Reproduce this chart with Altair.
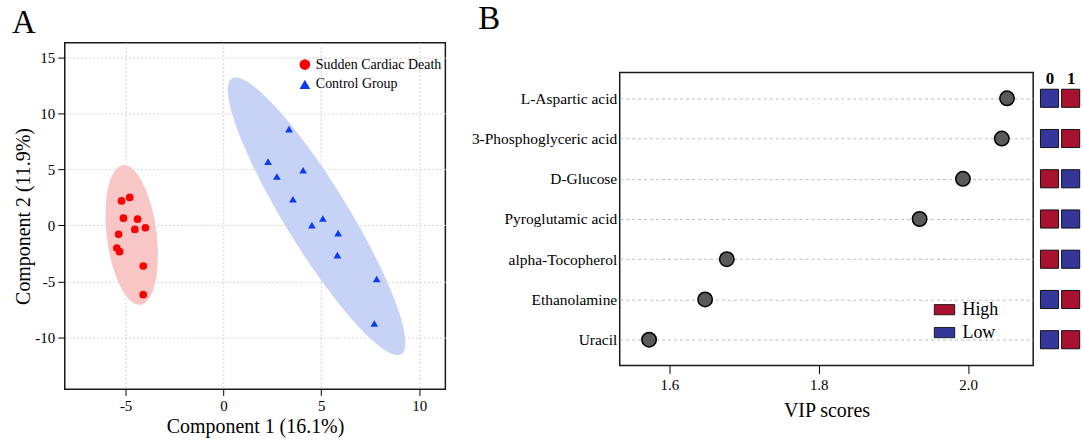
import numpy as np
import pandas as pd
import altair as alt

FONT = "Liberation Serif"

# ---------------- Panel A data (PLS-DA scores) ----------------
groups = ["Sudden Cardiac Death", "Control Group"]
scd_x = [-5.21, -4.79, -5.11, -4.39, -4.53, -3.99, -5.36, -5.45, -5.31, -4.10, -4.10]
scd_y = [2.19, 2.50, 0.65, 0.56, -0.36, -0.21, -0.80, -2.02, -2.35, -3.63, -6.19]
ctl_x = [3.35, 2.28, 2.73, 4.07, 3.55, 5.08, 4.52, 5.86, 5.82, 7.83, 7.71]
ctl_y = [8.61, 5.70, 4.37, 4.93, 2.34, 0.62, 0.03, -0.69, -2.65, -4.79, -8.77]

# confidence ellipses: centre, offset of the top point, half width at the top
ell_cx = [-4.69, 4.76]
ell_cy = [-0.86, 0.81]
ell_top_dx = [-0.39, -4.13]
ell_top_dy = [6.24, 12.41]
ell_halfw = [1.28, 1.88]
ell_fill = ["#f9c6c6", "#c6d3f6"]

point_colors = ["#ff0000", "#0b3cf2"]
point_shapes = ["circle", "triangle-up"]

# ---------------- Panel B data (VIP scores) ----------------
metabolites = ["L-Aspartic acid", "3-Phosphoglyceric acid", "D-Glucose",
               "Pyroglutamic acid", "alpha-Tocopherol", "Ethanolamine", "Uracil"]
vip = [2.052, 2.045, 1.993, 1.935, 1.677, 1.648, 1.573]
heat_cols = ["0", "1"]
heat_0 = ["Low", "Low", "High", "High", "High", "Low", "Low"]
heat_1 = ["High", "High", "Low", "Low", "Low", "High", "High"]
levels = ["High", "Low"]
level_colors = ["#a8112f", "#34369a"]

# ---------------- build tables ----------------
pts = pd.DataFrame({
    "x": scd_x + ctl_x,
    "y": scd_y + ctl_y,
    "group": [groups[0]] * len(scd_x) + [groups[1]] * len(ctl_x),
})


def ellipse_table(i, n=181):
    ax, ay, b = ell_top_dx[i], ell_top_dy[i], ell_halfw[i]
    R = np.hypot(ax, b)
    phi = np.arctan2(b, ax)
    u = np.cos(np.linspace(0, np.pi, n))
    s = np.sqrt(np.clip(1 - u ** 2, 0, None))
    x = ell_cx[i] + R * u
    mid = ell_cy[i] + ay * u * np.cos(phi)
    half = ay * np.sin(phi) * s
    return pd.DataFrame({"x": x, "y": mid + half, "y2": mid - half})


xA_scale = alt.Scale(domain=[-8.11, 11.34], nice=False, zero=False)
yA_scale = alt.Scale(domain=[-14.66, 16.34], nice=False, zero=False)

xA_axis = alt.Axis(values=[-5, 0, 5, 10], labelExpr="datum.value", title="Component 1 (16.1%)",
                   grid=True, gridDash=[2, 2], gridColor="#d4d4d4", domain=False,
                   tickSize=6, tickColor="black", labelFontSize=15, titleFontSize=20,
                   labelPadding=3, titlePadding=3)
yA_axis = alt.Axis(values=[-10, -5, 0, 5, 10, 15], labelExpr="datum.value", title="Component 2 (11.9%)",
                   grid=True, gridDash=[2, 2], gridColor="#d4d4d4", domain=False,
                   tickSize=7, tickColor="black", labelFontSize=15, titleFontSize=20,
                   labelPadding=3, titlePadding=1)

ell_layers = []
for i in range(2):
    ell_layers.append(
        alt.Chart(ellipse_table(i)).mark_area(color=ell_fill[i], opacity=1, orient="vertical").encode(
            x=alt.X("x:Q", scale=xA_scale, axis=xA_axis),
            y=alt.Y("y:Q", scale=yA_scale, axis=yA_axis),
            y2="y2:Q",
        )
    )

legA = alt.Legend(title=None, orient="none", legendX=234, legendY=15, labelFont=FONT,
                  labelFontSize=14, labelColor="black", symbolSize=115, symbolStrokeWidth=0,
                  rowPadding=6, labelOffset=4, padding=0)

points = alt.Chart(pts).mark_point(filled=True, size=60, opacity=1).encode(
    x=alt.X("x:Q", scale=xA_scale, axis=xA_axis),
    y=alt.Y("y:Q", scale=yA_scale, axis=yA_axis),
    color=alt.Color("group:N", scale=alt.Scale(domain=groups, range=point_colors), legend=legA),
    shape=alt.Shape("group:N", scale=alt.Scale(domain=groups, range=point_shapes), legend=legA),
)

panelA = alt.layer(*ell_layers, points).properties(
    width=382, height=348,
    view=alt.ViewBackground(stroke="#1a1a1a", strokeWidth=1.5),
    title=alt.TitleParams("A", anchor="start", frame="group", dx=-53, fontSize=33, font=FONT,
                          fontWeight="normal", baseline="top", offset=3, color="black"),
)

# ---------------- Panel B ----------------
dots = pd.DataFrame({"metabolite": metabolites, "vip": vip})
heat = pd.DataFrame({
    "metabolite": metabolites * 2,
    "col": [heat_cols[0]] * len(metabolites) + [heat_cols[1]] * len(metabolites),
    "level": heat_0 + heat_1,
})

yB_scale = alt.Scale(type="point", padding=0.64, domain=metabolites)
yB = alt.Y("metabolite:N", sort=metabolites, scale=yB_scale,
           axis=alt.Axis(title=None, grid=True, gridDash=[3, 3], gridColor="#bdbdbd", ticks=False,
                         domain=False, labelFontSize=15.5, labelPadding=3))
xB = alt.X("vip:Q", scale=alt.Scale(domain=[1.5337, 2.087], nice=False, zero=False),
           axis=alt.Axis(values=[1.6, 1.8, 2.0], format=".1f", grid=False, domain=False,
                         tickSize=8, tickColor="black", labelFontSize=15, labelPadding=4,
                         title="VIP scores", titleFontSize=20, titlePadding=8))

dot_layer = alt.Chart(dots).mark_point(filled=True, size=210, fill="#5a5a5a", stroke="black",
                                       strokeWidth=1.5, opacity=1).encode(x=xB, y=yB)

legB = alt.Legend(title=None, orient="none", legendX=315, legendY=227, labelFont=FONT,
                  labelFontSize=18, labelColor="black", symbolType="M-1,-0.5H1V0.5H-1Z",
                  symbolSize=420, symbolStrokeColor="black", symbolStrokeWidth=0.8,
                  symbolOpacity=1, rowPadding=3, labelOffset=7, padding=0)

legend_layer = alt.Chart(heat).mark_square(opacity=0, size=10).encode(
    x=alt.value(0),
    y=alt.Y("metabolite:N", sort=metabolites, scale=yB_scale),
    color=alt.Color("level:N", scale=alt.Scale(domain=levels, range=level_colors), legend=legB),
)

panelB = alt.layer(dot_layer, legend_layer).properties(
    width=415, height=294,
    view=alt.ViewBackground(stroke="#1a1a1a", strokeWidth=1.5),
)

heat_chart = alt.Chart(heat).mark_square(size=330, stroke="#111111", strokeWidth=1, opacity=1).encode(
    x=alt.X("col:N", sort=heat_cols, scale=alt.Scale(type="point", padding=0.49),
            axis=alt.Axis(orient="top", title=None, ticks=False, domain=False, labelAngle=0,
                          labelFontSize=17, labelFontWeight="bold", offset=-15, labelPadding=0)),
    y=alt.Y("metabolite:N", sort=metabolites, scale=yB_scale, axis=None),
    color=alt.Color("level:N", scale=alt.Scale(domain=levels, range=level_colors), legend=None),
).properties(width=42, height=294, view=alt.ViewBackground(stroke="transparent"))

spacer = alt.Chart(pd.DataFrame({"v": [0]})).mark_point(opacity=0).encode(
    x=alt.value(0), y=alt.value(0)
).properties(width=1, height=25, view=alt.ViewBackground(stroke="transparent"))

inner = alt.hconcat(panelB, heat_chart, spacing=3).resolve_scale(color="independent")
colB = alt.vconcat(spacer, inner, spacing=0).properties(
    title=alt.TitleParams("B", anchor="start", frame="group", dx=-142, fontSize=33, font=FONT,
                          fontWeight="normal", baseline="top", offset=3, color="black")
)

chart = alt.hconcat(panelA, colB, spacing=24).properties(
    padding={"left": 11, "top": 2, "right": 0, "bottom": 0}
).configure_axis(
    labelFont=FONT, titleFont=FONT, titleFontWeight="normal", labelColor="black", titleColor="black"
).configure_legend(labelFont=FONT)

chart.save("out.html", embed_options={"renderer": "svg", "actions": False})
